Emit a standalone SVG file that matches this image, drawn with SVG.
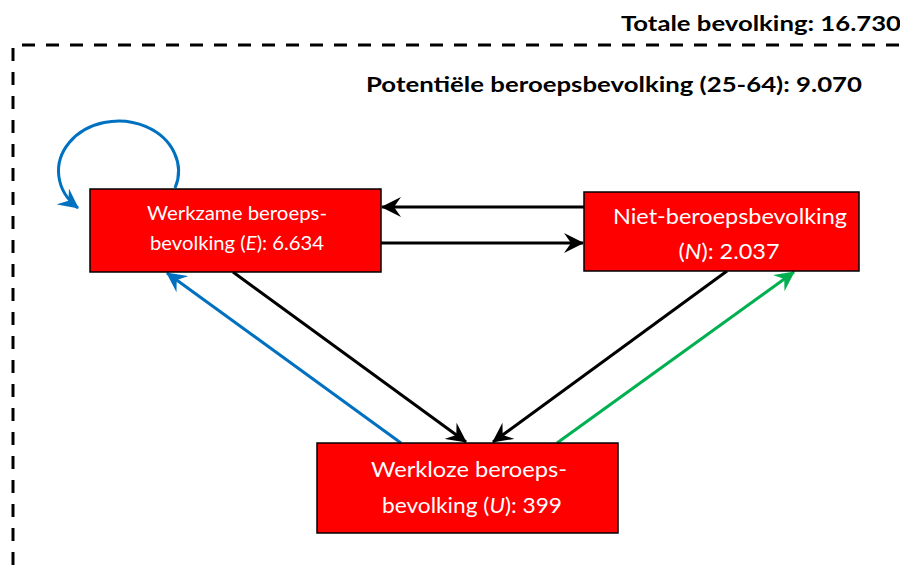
<svg xmlns="http://www.w3.org/2000/svg" width="900" height="571" viewBox="0 0 900 571">
<style>
.title{font-family:Lato,"Liberation Sans",sans-serif;font-weight:bold;font-size:21.5px;fill:#000}
.box{fill:#ff0000;stroke:#000;stroke-width:1.5}
.lbl{font-family:Lato,"Liberation Sans",sans-serif;fill:#fff;text-anchor:middle}
.border{fill:none;stroke:#000;stroke-width:3;stroke-dasharray:13 11}
.con{fill:none;stroke-width:3}
.k{stroke:#000}
.b{stroke:#0070C0}
.g{stroke:#00B050}
</style>
<defs>
<marker id="ak" viewBox="0 0 20 20" markerWidth="20" markerHeight="20" refX="19" refY="10" orient="auto" markerUnits="userSpaceOnUse"><path d="M20,10 L0,0 L7,10 L0,20 Z" fill="#000"/></marker>
<marker id="ab" viewBox="0 0 20 20" markerWidth="20" markerHeight="20" refX="19" refY="10" orient="auto" markerUnits="userSpaceOnUse"><path d="M20,10 L0,0 L7,10 L0,20 Z" fill="#0070C0"/></marker>
<marker id="ag" viewBox="0 0 20 20" markerWidth="20" markerHeight="20" refX="19" refY="10" orient="auto" markerUnits="userSpaceOnUse"><path d="M20,10 L0,0 L7,10 L0,20 Z" fill="#00B050"/></marker>
</defs>
<g id="frame">
<line class="border" x1="22" y1="45" x2="900" y2="45"/>
<line class="border" x1="13" y1="48" x2="13" y2="571"/>
<text class="title" x="621" y="31" textLength="280" lengthAdjust="spacingAndGlyphs">Totale bevolking: 16.730</text>
<text class="title" x="366" y="92" textLength="496" lengthAdjust="spacingAndGlyphs">Potentiële beroepsbevolking (25-64): 9.070</text>
</g>
<g id="connectors">
<line class="con k" x1="584" y1="207" x2="382" y2="207" marker-end="url(#ak)"/>
<line class="con k" x1="381" y1="243" x2="583" y2="243" marker-end="url(#ak)"/>
<line class="con k" x1="233" y1="272" x2="466" y2="442" marker-end="url(#ak)"/>
<line class="con k" x1="727" y1="271" x2="493" y2="442" marker-end="url(#ak)"/>
<line class="con b" x1="401" y1="443" x2="167" y2="273" marker-end="url(#ab)"/>
<line class="con g" x1="557" y1="443" x2="794" y2="272" marker-end="url(#ag)"/>
<path class="con b" d="M175,188 A60,50 0 1 0 78,208" marker-end="url(#ab)"/>
</g>
<g id="node-E">
<rect class="box" x="90" y="189" width="291" height="83"/>
<text class="lbl" x="237" y="220" font-size="20" textLength="180" lengthAdjust="spacingAndGlyphs">Werkzame beroeps-</text>
<text class="lbl" x="237" y="250" font-size="20" textLength="174" lengthAdjust="spacingAndGlyphs">bevolking (<tspan font-style="italic">E</tspan>): 6.634</text>
</g>
<g id="node-N">
<rect class="box" x="584" y="192" width="275" height="79"/>
<text class="lbl" x="730" y="224" font-size="21.5" textLength="234" lengthAdjust="spacingAndGlyphs">Niet-beroepsbevolking</text>
<text class="lbl" x="729" y="259" font-size="21.5" textLength="101" lengthAdjust="spacingAndGlyphs">(<tspan font-style="italic">N</tspan>): 2.037</text>
</g>
<g id="node-U">
<rect class="box" x="317" y="443" width="301" height="90"/>
<text class="lbl" x="469" y="477" font-size="21.5" textLength="196" lengthAdjust="spacingAndGlyphs">Werkloze beroeps-</text>
<text class="lbl" x="472" y="513" font-size="21.5" textLength="180" lengthAdjust="spacingAndGlyphs">bevolking (<tspan font-style="italic">U</tspan>): 399</text>
</g>
</svg>
